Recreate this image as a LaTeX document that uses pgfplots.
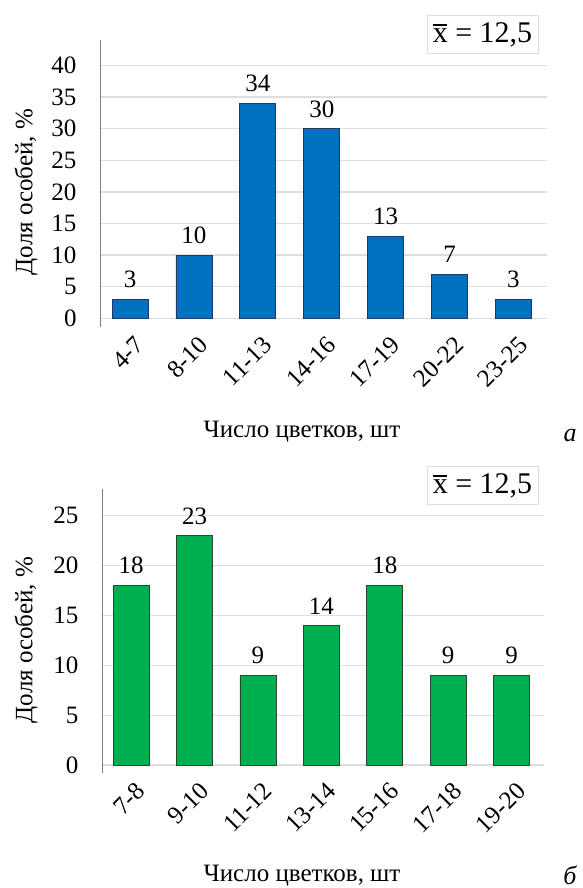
\documentclass[border=0pt]{standalone}
\usepackage{fontspec}
\setmainfont{Liberation Serif}
\usepackage{pgfplots}
\pgfplotsset{compat=1.18}

\definecolor{barblue}{RGB}{0,112,192}
\definecolor{barbluedark}{RGB}{31,56,100}
\definecolor{bargreen}{RGB}{0,176,80}
\definecolor{bargreendark}{RGB}{40,70,50}
\definecolor{gridgray}{RGB}{222,222,222}
\definecolor{axisgray}{RGB}{128,128,128}

\newcommand{\tickfont}{\fontsize{25}{28}\selectfont}
% upright x with a bar over it (sample mean)
\newcommand{\xbar}{\leavevmode\rlap{\kern0.02em\rule[0.56em]{0.46em}{0.07em}}x}

\pgfplotsset{
  histstyle/.style={
    scale only axis,
    ybar,
    bar width=36pt,
    axis x line*=bottom,
    axis y line*=left,
    x axis line style={draw=none},
    y axis line style={draw=axisgray, line width=0.9pt, -},
    major tick length=0pt,
    ymajorgrids,
    grid style={gridgray, line width=1.3pt},
    xtick=data,
    /pgf/number format/assume math mode=true,
    tick label style={font=\tickfont},
    yticklabel style={anchor=east, inner sep=0pt, xshift=-24pt},
    xticklabel style={rotate=45, anchor=east, inner sep=0pt, xshift=-3pt, yshift=-17pt},
    nodes near coords,
    every node near coord/.append style={font=\tickfont, anchor=south, inner sep=0pt, yshift=11pt},
    clip=false,
  }
}

\begin{document}
\begin{tikzpicture}[x=1pt,y=1pt]
\path[use as bounding box] (0,0) rectangle (582,888);

% (a) number of flowers, first sample
\begin{axis}[histstyle,
  at={(100.7pt,561pt)}, anchor=south west,
  width=446pt, height=287pt,
  xmin=-0.46, xmax=6.52, ymin=-1.38, ymax=44.03,
  ytick={0,5,...,40},
  xticklabels={4-7,8-10,11-13,14-16,17-19,20-22,23-25}]
\addplot[fill=barblue, draw=barbluedark, line width=0.8pt]
  coordinates {(0,3) (1,10) (2,34) (3,30) (4,13) (5,7) (6,3)};
\end{axis}

% (b) number of flowers, second sample
\begin{axis}[histstyle,
  at={(102.6pt,115.3pt)}, anchor=south west,
  width=441.4pt, height=283.7pt,
  xmin=-0.45, xmax=6.51, ymin=-0.77, ymax=27.68,
  ytick={0,5,...,25},
  xticklabels={7-8,9-10,11-12,13-14,15-16,17-18,19-20}]
\addplot[fill=bargreen, draw=bargreendark, line width=0.8pt]
  coordinates {(0,18) (1,23) (2,9) (3,14) (4,18) (5,9) (6,9)};
\end{axis}

% axis titles
\node[rotate=90, font=\tickfont] at (26,696) {Доля особей, \%};
\node[rotate=90, font=\tickfont] at (26,248) {Доля особей, \%};
\node[font=\tickfont, anchor=base] at (302,450) {Число цветков, шт};
\node[font=\tickfont, anchor=base] at (302,6) {Число цветков, шт};

% panel letters
\node[font=\itshape\fontsize{26}{30}\selectfont, anchor=base] at (570,446) {а};
\node[font=\itshape\fontsize{26}{30}\selectfont, anchor=base] at (570,4) {б};

% mean value boxes
\node[draw=gridgray, line width=1pt, fill=white, font=\fontsize{30}{34}\selectfont,
      minimum width=111pt, minimum height=38pt, inner sep=0pt]
  at (482.5,853) {\xbar{} = 12,5};
\node[draw=gridgray, line width=1pt, fill=white, font=\fontsize{30}{34}\selectfont,
      minimum width=111pt, minimum height=38pt, inner sep=0pt]
  at (482.5,402) {\xbar{} = 12,5};
\end{tikzpicture}
\end{document}
